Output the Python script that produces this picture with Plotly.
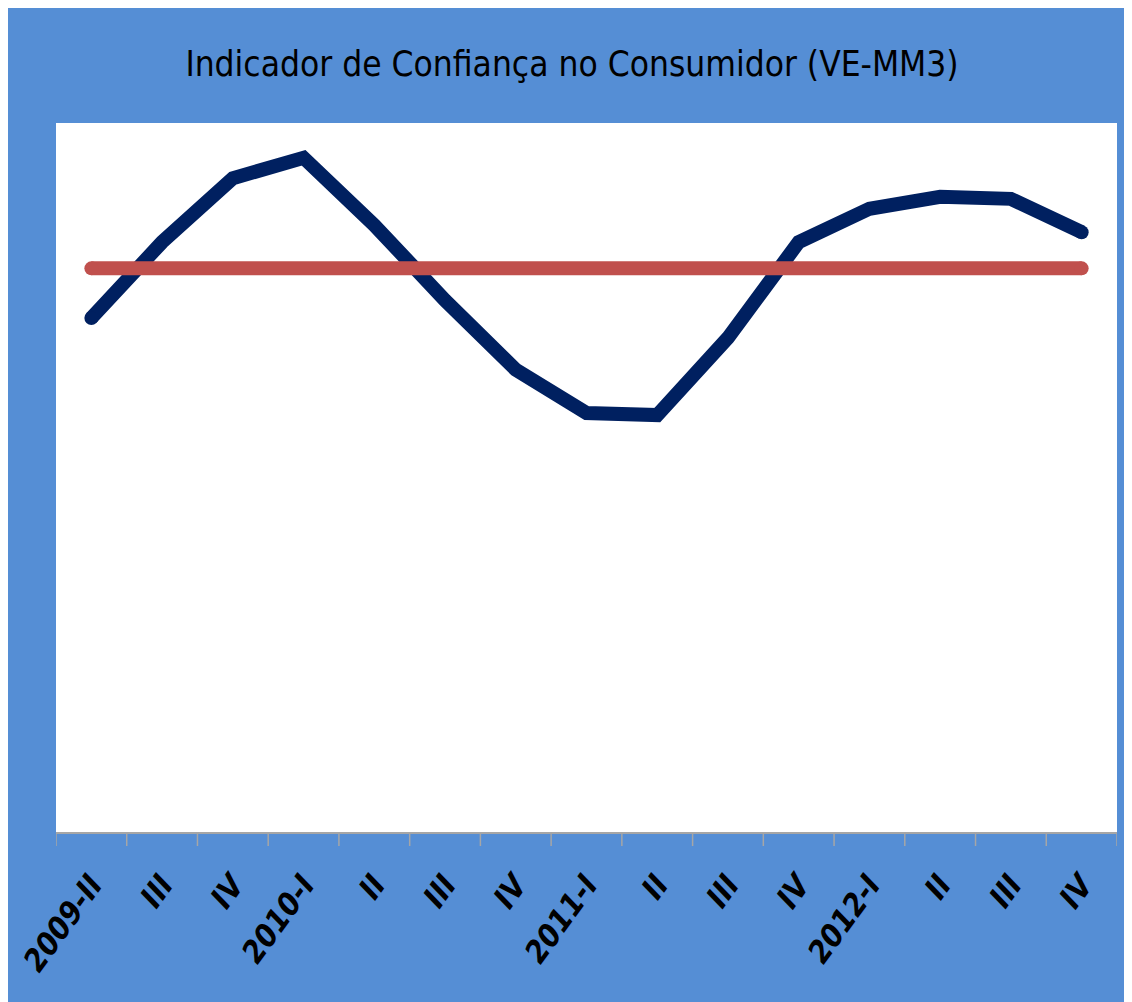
import plotly.graph_objects as go

categories = ["2009-II", "III", "IV", "2010-I", "II", "III", "IV", "2011-I",
              "II", "III", "IV", "2012-I", "II", "III", "IV"]
indicator = [72.5, 83.2, 92.2, 95.1, 85.6, 75.0, 65.2, 59.1, 58.8, 69.7,
             83.2, 87.9, 89.6, 89.3, 84.6]
average = [79.5] * len(categories)

BLUE_BG = "#558ED5"
NAVY = "#002060"
RED = "#C0504D"
x_idx = list(range(len(categories)))

fig = go.Figure()
fig.add_trace(go.Scatter(x=x_idx, y=indicator, mode="lines",
                         line=dict(color=NAVY, width=14, shape="linear"),
                         hoverinfo="skip"))
# round caps for navy line ends
fig.add_trace(go.Scatter(x=[x_idx[0], x_idx[-1]], y=[indicator[0], indicator[-1]],
                         mode="markers", marker=dict(color=NAVY, size=14, line=dict(width=0)),
                         hoverinfo="skip"))
fig.add_trace(go.Scatter(x=x_idx, y=average, mode="lines",
                         line=dict(color=RED, width=14), hoverinfo="skip"))
fig.add_trace(go.Scatter(x=[x_idx[0], x_idx[-1]], y=[average[0], average[-1]],
                         mode="markers", marker=dict(color=RED, size=14, line=dict(width=0)),
                         hoverinfo="skip"))

# page body has an 8px margin; figure begins at (8, 8)
W, H = 1124, 994
ml, mr, mt, mb = 48, 15, 115, 170
pw, ph = W - ml - mr, H - mt - mb

fig.update_layout(
    width=W, height=H,
    margin=dict(l=ml, r=mr, t=mt, b=mb, autoexpand=False),
    paper_bgcolor=BLUE_BG,
    plot_bgcolor="white",
    showlegend=False,
    title=dict(text="Indicador de Confiança no Consumidor (VE-MM3)",
               x=(572 - 8) / W, xanchor="center", y=1 - (64 - 8) / H, yanchor="middle",
               font=dict(family="Liberation Sans Narrow, DejaVu Sans Condensed, Arial",
                         size=35, color="black")),
    xaxis=dict(
        tickmode="array", tickvals=x_idx, ticktext=categories,
        range=[-0.5, 14.5], showgrid=False, zeroline=False, automargin=False,
        showline=True, linecolor="#A6A6A6", linewidth=2,
        ticks="", tickangle=-54, ticklabelstandoff=20,
        tickfont=dict(family="Liberation Sans Narrow, DejaVu Sans Condensed, Arial",
                      size=31, color="black", weight="bold", style="italic"),
    ),
    yaxis=dict(range=[0, 100], showgrid=False, zeroline=False, automargin=False,
               showticklabels=False, showline=False, fixedrange=True),
)

# tick marks at category boundaries
for b in range(len(categories) + 1):
    fig.add_shape(type="line", xref="x", yref="paper",
                  x0=b - 0.5, x1=b - 0.5, y0=0, y1=-14 / ph,
                  line=dict(color="#A6A6A6", width=1.5))

fig.write_html("out.html")
